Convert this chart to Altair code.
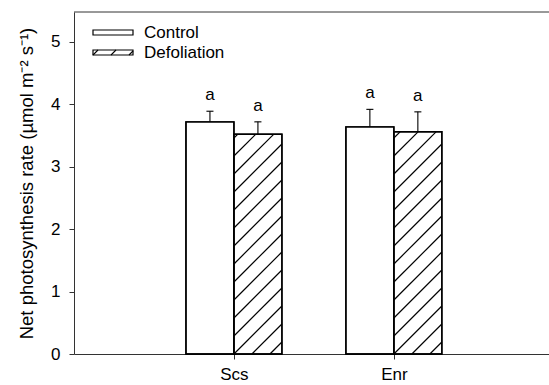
import math
import altair as alt
import pandas as pd

# ---- data ----
sites = ["Scs", "Enr"]
treatments = ["Control", "Defoliation"]
control_mean = [3.72, 3.64]
control_se = [0.17, 0.28]
defol_mean = [3.52, 3.56]
defol_se = [0.20, 0.32]
control_letters = ["a", "a"]
defol_letters = ["a", "a"]
y_ticks = [0, 1, 2, 3, 4, 5]
y_title = "Net photosynthesis rate (µmol m⁻² s⁻¹)"

# ---- layout ----
W, H = 475, 342
Y_MAX = 5.48
X_MAX = 2.97          # category positions are 1, 2
BAR_W = 0.3
CAP = 0.022
PX_X = W / X_MAX
PX_Y = H / Y_MAX
HATCH = 18.0
FONT = "Liberation Sans"

rows = []
for i, s in enumerate(sites):
    pos = i + 1
    rows.append(dict(site=s, trt=treatments[0], x0=pos - BAR_W, x1=pos, xc=pos - BAR_W / 2,
                     mean=control_mean[i], se=control_se[i], letter=control_letters[i]))
    rows.append(dict(site=s, trt=treatments[1], x0=pos, x1=pos + BAR_W, xc=pos + BAR_W / 2,
                     mean=defol_mean[i], se=defol_se[i], letter=defol_letters[i]))
df = pd.DataFrame(rows)
df["top"] = df["mean"] + df["se"]
df["cl"] = df["xc"] - CAP
df["cr"] = df["xc"] + CAP


def hatch_segments(x0, w, h, spacing):
    segs = []
    kmin = -int(math.ceil(h / spacing)) - 1
    kmax = int(math.ceil(w / spacing)) + 1
    for k in range(kmin, kmax):
        b = k * spacing
        tmin = max(0.0, -b)
        tmax = min(h, w - b)
        if tmax > tmin + 0.5:
            segs.append((x0 + b + tmin, tmin, x0 + b + tmax, tmax))
    return segs


hatch_rows = []
for r in rows:
    if r["trt"] == treatments[1]:
        for (a, b, c, d) in hatch_segments(0.0, BAR_W * PX_X, r["mean"] * PX_Y, HATCH):
            hatch_rows.append(dict(hx=r["x0"] + a / PX_X, hy=b / PX_Y,
                                   hx2=r["x0"] + c / PX_X, hy2=d / PX_Y))
hatch_df = pd.DataFrame(hatch_rows)

xs = alt.Scale(domain=[0, X_MAX], nice=False, zero=False)
ys = alt.Scale(domain=[0, Y_MAX], nice=False)

x_axis = alt.Axis(values=[1, 2], labelExpr="%s[datum.value - 1]" % str(sites),
                  title=None, grid=False, tickSize=5, labelPadding=7,
                  labelFontSize=17, labelFont=FONT, labelColor="black",
                  domainColor="#333333", tickColor="#333333")
y_axis = alt.Axis(values=y_ticks, title=y_title, grid=False, tickSize=5,
                  labelPadding=9, labelFontSize=17, labelFont=FONT, labelColor="black",
                  titleFontSize=18.5, titleFont=FONT, titleFontWeight="normal",
                  titleColor="black", titlePadding=14,
                  domainColor="#333333", tickColor="#333333")


def X(field):
    return alt.X(field, type="quantitative", scale=xs, axis=x_axis)


def Y(field):
    return alt.Y(field, type="quantitative", scale=ys, axis=y_axis)


base = alt.Chart(df)

bars = base.mark_rect(fill="white", stroke="black", strokeWidth=1.4).encode(
    x=X("x0"), x2="x1", y=Y("mean"), y2=alt.datum(0),
)

hatch = alt.Chart(hatch_df).mark_rule(color="black", strokeWidth=1.2).encode(
    x=X("hx"), x2="hx2", y=Y("hy"), y2="hy2",
)

outline = base.mark_rect(fillOpacity=0, stroke="black", strokeWidth=1.4).encode(
    x=X("x0"), x2="x1", y=Y("mean"), y2=alt.datum(0),
)

err = base.mark_rule(color="black", strokeWidth=1.1).encode(
    x=X("xc"), y=Y("mean"), y2="top",
)
caps = base.mark_rule(color="black", strokeWidth=1.1).encode(
    x=X("cl"), x2="cr", y=Y("top"),
)
letters = base.mark_text(font=FONT, fontSize=17, baseline="bottom", dy=-7, color="black").encode(
    x=X("xc"), y=Y("top"), text="letter",
)

top_line = alt.Chart(pd.DataFrame({"v": [Y_MAX]})).mark_rule(color="#333333", strokeWidth=1).encode(
    y=Y("v"),
    x=alt.value(0),
    x2=alt.value(W),
)

# ---- legend (pixel positions inside the plot area) ----
LX, LW, LH = 19, 40, 5
leg_y = [18, 38]
leg_df = pd.DataFrame({"label": treatments, "y0": leg_y,
                       "y1": [v + LH for v in leg_y], "ty": [v + LH / 2 for v in leg_y],
                       "lx0": [LX] * 2, "lx1": [LX + LW] * 2, "tx": [LX + LW + 11] * 2})
leg_rect = alt.Chart(leg_df).mark_rect(fill="white", stroke="black", strokeWidth=1.2).encode(
    x=alt.X("lx0:Q", scale=None), x2="lx1",
    y=alt.Y("y0:Q", scale=None), y2="y1",
)
leg_h_rows = []
for (a, b, c, d) in hatch_segments(0.0, LW, LH, HATCH):
    leg_h_rows.append(dict(px=LX + a, py=leg_y[1] + LH - b, px2=LX + c, py2=leg_y[1] + LH - d))
leg_hatch = alt.Chart(pd.DataFrame(leg_h_rows)).mark_rule(color="black", strokeWidth=1.1).encode(
    x=alt.X("px:Q", scale=None), x2="px2",
    y=alt.Y("py:Q", scale=None), y2="py2",
)
leg_text = alt.Chart(leg_df).mark_text(font=FONT, fontSize=17, align="left",
                                       baseline="middle", color="black").encode(
    x=alt.X("tx:Q", scale=None),
    y=alt.Y("ty:Q", scale=None),
    text="label",
)

chart = alt.layer(bars, hatch, outline, err, caps, letters, top_line,
                  leg_rect, leg_hatch, leg_text).properties(
    width=W, height=H,
    autosize=alt.AutoSizeParams(type="none"),
    padding={"left": 74, "top": 12, "right": 0, "bottom": 31},
).configure_view(stroke=None)

chart.save("out.html", embed_options={"renderer": "svg", "actions": False})
